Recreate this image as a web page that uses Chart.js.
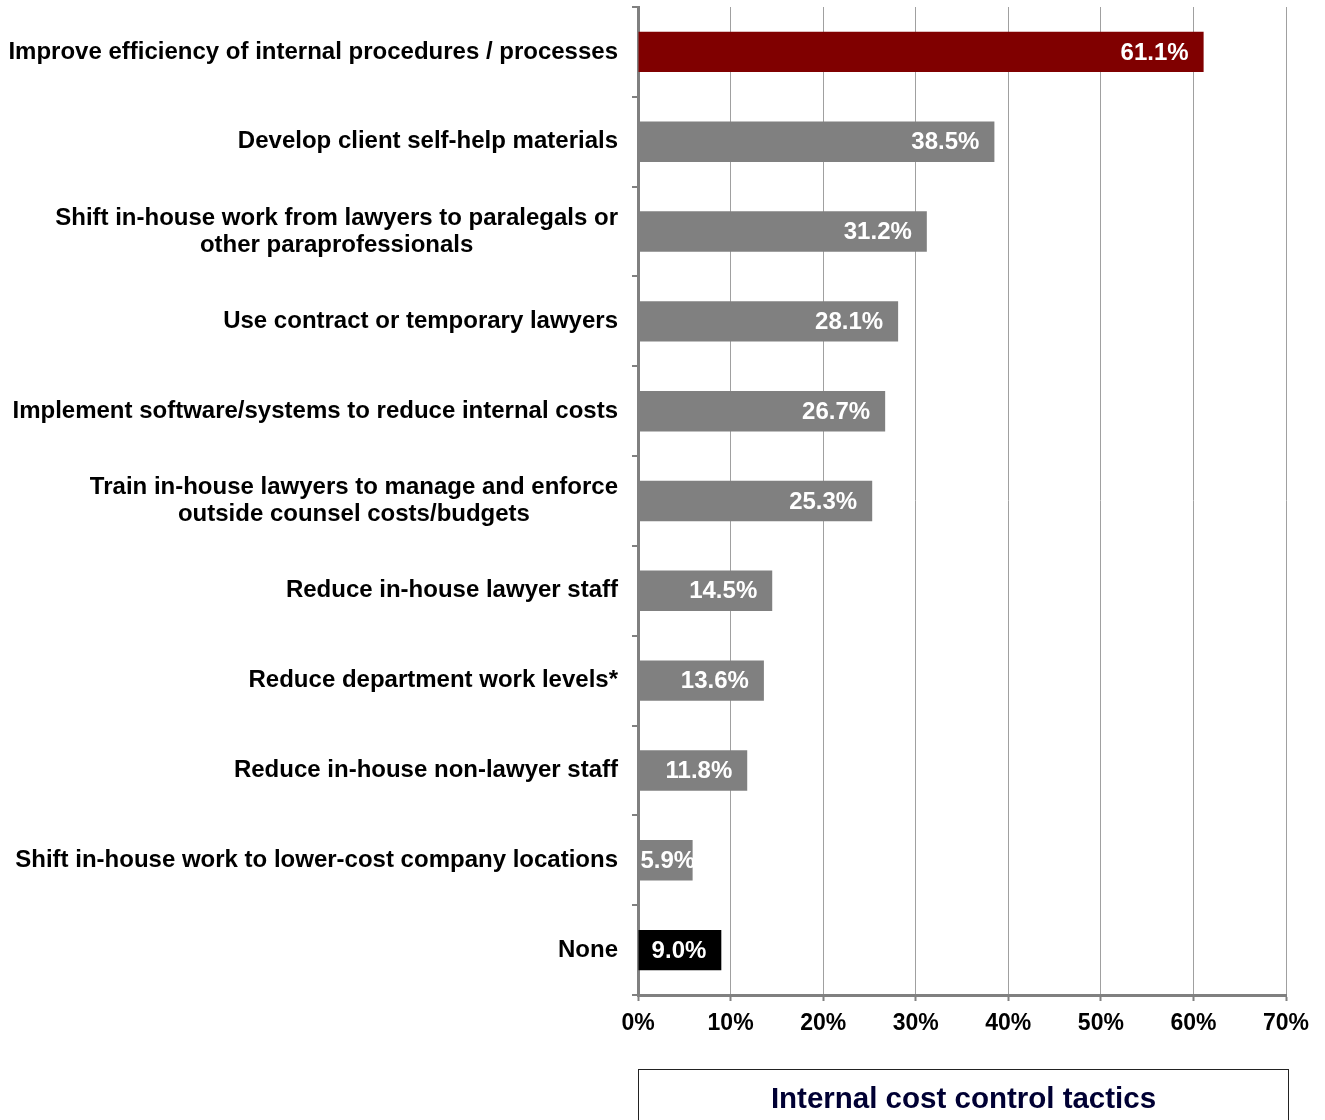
<!DOCTYPE html>
<html>
<head>
<meta charset="utf-8">
<script src="https://cdn.jsdelivr.net/npm/chart.js@4.4.1/dist/chart.umd.min.js"></script>
<style>
  body { margin: 0; background: #fff; }
  #wrap { position: relative; width: 1325px; height: 1120px; overflow: hidden; }
  #titleBox {
    position: absolute; left: 638px; top: 1069px; width: 651px; height: 80px;
    border: 1px solid #222; box-sizing: border-box;
    font: bold 29.5px "Liberation Sans", Arial, sans-serif; color: #000033;
    text-align: center; padding-top: 11px; line-height: 34px;
  }
</style>
</head>
<body>
<div id="wrap">
  <canvas id="myChart" width="1325" height="1120"></canvas>
  <div id="titleBox">Internal cost control tactics</div>
</div>
<script>
// categorias (multi-linha quando precisa)
const categorias = [
  ['Improve efficiency of internal procedures / processes'],
  ['Develop client self-help materials'],
  ['Shift in-house work from lawyers to paralegals or', 'other paraprofessionals'],
  ['Use contract or temporary lawyers'],
  ['Implement software/systems to reduce internal costs'],
  ['Train in-house lawyers to manage and enforce', 'outside counsel costs/budgets'],
  ['Reduce in-house lawyer staff'],
  ['Reduce department work levels*'],
  ['Reduce in-house non-lawyer staff'],
  ['Shift in-house work to lower-cost company locations'],
  ['None']
];
const valores = [61.1, 38.5, 31.2, 28.1, 26.7, 25.3, 14.5, 13.6, 11.8, 5.9, 9.0];
const cores = ['#800000', '#808080', '#808080', '#808080', '#808080', '#808080',
               '#808080', '#808080', '#808080', '#808080', '#000000'];
const ticksX = [0, 10, 20, 30, 40, 50, 60, 70];

const fonte = '"Liberation Sans", Arial, sans-serif';

// desenha os rotulos do eixo y (bloco alinhado a direita, linhas centralizadas)
const rotulosY = {
  id: 'rotulosY',
  afterDraw(chart) {
    const ctx = chart.ctx;
    const y = chart.scales.y;
    ctx.save();
    ctx.font = 'bold 24px ' + fonte;
    ctx.fillStyle = '#000';
    ctx.textAlign = 'center';
    ctx.textBaseline = 'middle';
    categorias.forEach((linhas, i) => {
      const py = y.getPixelForValue(i);
      const larg = Math.max(...linhas.map(l => ctx.measureText(l).width));
      const cx = 618 - larg / 2;
      const lh = 27;
      linhas.forEach((l, k) => {
        ctx.fillText(l, cx, py - (linhas.length - 1) * lh / 2 + k * lh);
      });
    });
    ctx.restore();
  }
};

// valores dentro da barra
const valoresBarra = {
  id: 'valoresBarra',
  afterDatasetsDraw(chart) {
    const ctx = chart.ctx;
    const meta = chart.getDatasetMeta(0);
    ctx.save();
    ctx.font = 'bold 24px ' + fonte;
    ctx.fillStyle = '#fff';
    ctx.textAlign = 'right';
    ctx.textBaseline = 'middle';
    meta.data.forEach((bar, i) => {
      const txt = valores[i].toFixed(1) + '%';
      const w = ctx.measureText(txt).width;
      let xr = bar.x - 15;
      if (xr - w < bar.base + 2) xr = bar.base + 2 + w;
      ctx.fillText(txt, xr, bar.y + 1);
    });
    ctx.restore();
  }
};

const config = {
  type: 'bar',
  data: {
    labels: categorias,
    datasets: [{
      data: valores,
      backgroundColor: cores,
      categoryPercentage: 1,
      barPercentage: 0.45
    }]
  },
  options: {
    indexAxis: 'y',
    responsive: false,
    animation: false,
    layout: { padding: { top: 7, right: 39, left: 0, bottom: 75 } },
    plugins: { legend: { display: false }, tooltip: { enabled: false } },
    scales: {
      x: {
        min: 0, max: 70,
        afterBuildTicks: (s) => { s.ticks = ticksX.map(v => ({ value: v })); },
        afterFit: (s) => { s.height = 50; },
        border: { color: '#808080', width: 3 },
        grid: { color: '#a0a0a0', lineWidth: 1, tickLength: 6, tickColor: '#808080', tickWidth: 2 },
        ticks: {
          padding: 9,
          color: '#000',
          font: { family: fonte, weight: 'bold', size: 23 },
          callback: (v) => v + '%'
        }
      },
      y: {
        afterFit: (s) => { s.width = 638; },
        border: { color: '#808080', width: 3 },
        grid: { drawOnChartArea: false, offset: true, tickLength: 6, color: '#808080', lineWidth: 2 },
        ticks: { display: false }
      }
    }
  },
  plugins: [rotulosY, valoresBarra]
};

const myChart = new Chart(document.getElementById('myChart'), config);
</script>
</body>
</html>
